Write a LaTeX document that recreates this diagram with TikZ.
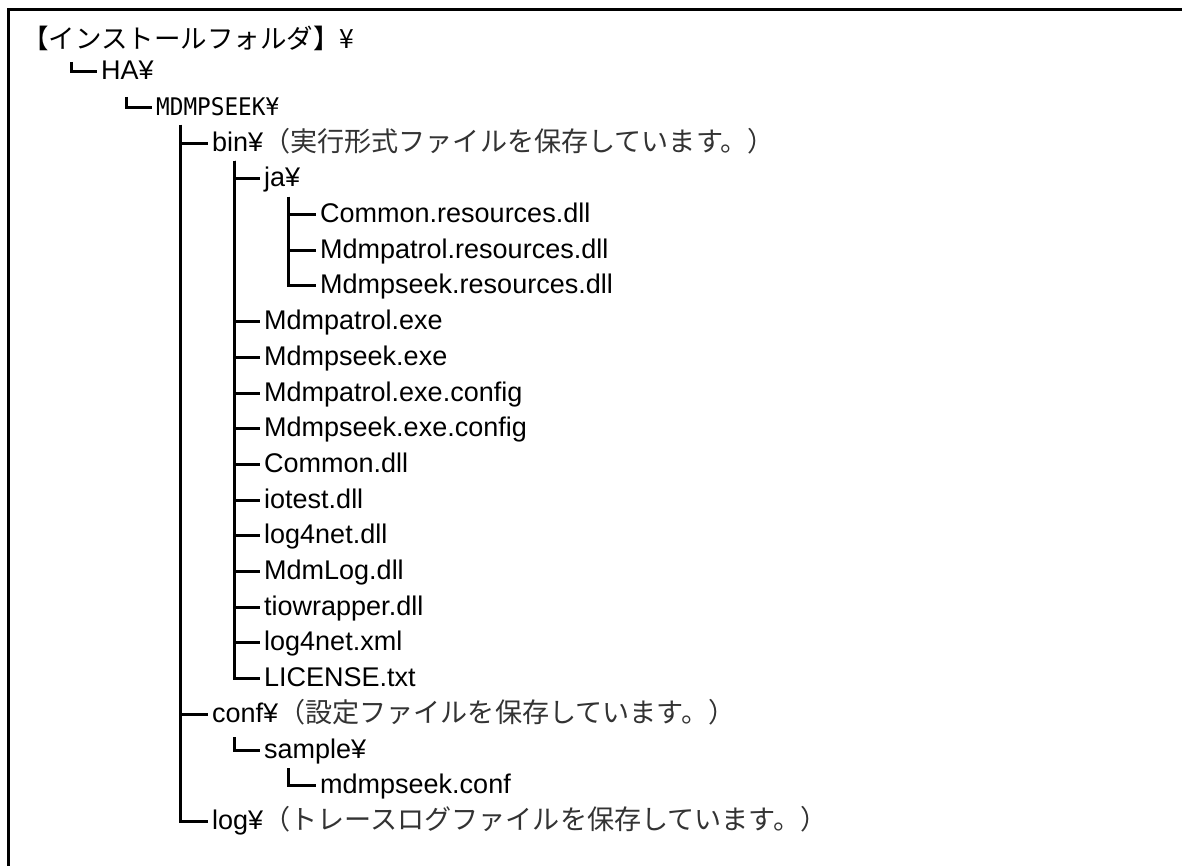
\documentclass[tikz,border=0pt]{standalone}
\usepackage{fontspec}
\usepackage{graphicx}
\setmainfont{Liberation Sans}
\newfontfamily\jpfont{Noto Sans CJK JP}
\newfontfamily\narrowfont{DejaVu Sans Mono}
\newcommand\jpnote[1]{{\color{black!80}\jpfont\fontsize{27.1}{30}\selectfont #1}}
\begin{document}
\begin{tikzpicture}[x=1pt,y=-1pt,
  conn/.style={line width=3pt, line join=miter},
  frameline/.style={line width=3pt},
  item/.style={anchor=base west, inner xsep=4pt, inner ysep=0pt,
    text height=16pt, text depth=0pt, font=\fontsize{27}{30}\selectfont}]
\useasboundingbox (0,0) rectangle (1182,866);
\fill[white] (0,0) rectangle (1182,866);
\draw[frameline] (8.5,875) -- (8.5,9.5) -- (1190,9.5);

% nodes
\node[item] (root) at (18,49) {\jpfont\fontsize{26.5}{30}\selectfont 【インストールフォルダ】¥};
\node[item] (ha) at (97,79.7) {HA¥};
\node[item] (mdm) at (152,115.4) {\resizebox{123pt}{18pt}{\narrowfont MDMPSEEK¥}};
\node[item] (bin) at (208,151.1) {bin¥\jpnote{（実行形式ファイルを保存しています。）}};
\node[item] (ja) at (260,186.8) {ja¥};
\node[item] (f5) at (316,222.5) {Common.resources.dll};
\node[item] (f6) at (316,258.2) {Mdmpatrol.resources.dll};
\node[item] (f7) at (316,293.9) {Mdmpseek.resources.dll};
\node[item] (f8) at (260,329.6) {Mdmpatrol.exe};
\node[item] (f9) at (260,365.3) {Mdmpseek.exe};
\node[item] (f10) at (260,401.0) {Mdmpatrol.exe.config};
\node[item] (f11) at (260,436.7) {Mdmpseek.exe.config};
\node[item] (f12) at (260,472.4) {Common.dll};
\node[item] (f13) at (260,508.1) {iotest.dll};
\node[item] (f14) at (260,543.8) {log4net.dll};
\node[item] (f15) at (260,579.5) {MdmLog.dll};
\node[item] (f16) at (260,615.2) {tiowrapper.dll};
\node[item] (f17) at (260,650.9) {log4net.xml};
\node[item] (f18) at (260,686.6) {LICENSE.txt};
\node[item] (conf) at (208,722.3) {conf¥\jpnote{（設定ファイルを保存しています。）}};
\node[item] (sample) at (260,758.0) {sample¥};
\node[item] (mconf) at (316,793.7) {mdmpseek.conf};
\node[item] (log) at (208,829.4) {log¥\jpnote{（トレースログファイルを保存しています。）}};

% branch start points
\coordinate (haTop) at (71,62);
\coordinate (mdmTop) at (126,97);
\coordinate (binTop) at (180,125);
\coordinate (jaTop) at (234,161);
\coordinate (resTop) at (288,197);
\coordinate (sampleTop) at (234,737);
\coordinate (mconfTop) at (288,768);

% connectors
\draw[conn] (haTop) |- (ha.west);
\draw[conn] (mdmTop) |- (mdm.west);
\foreach \n in {bin,conf,log} \draw[conn] (binTop) |- (\n.west);
\foreach \n in {ja,f8,f9,f10,f11,f12,f13,f14,f15,f16,f17,f18} \draw[conn] (jaTop) |- (\n.west);
\foreach \n in {f5,f6,f7} \draw[conn] (resTop) |- (\n.west);
\draw[conn] (sampleTop) |- (sample.west);
\draw[conn] (mconfTop) |- (mconf.west);
\end{tikzpicture}
\end{document}
